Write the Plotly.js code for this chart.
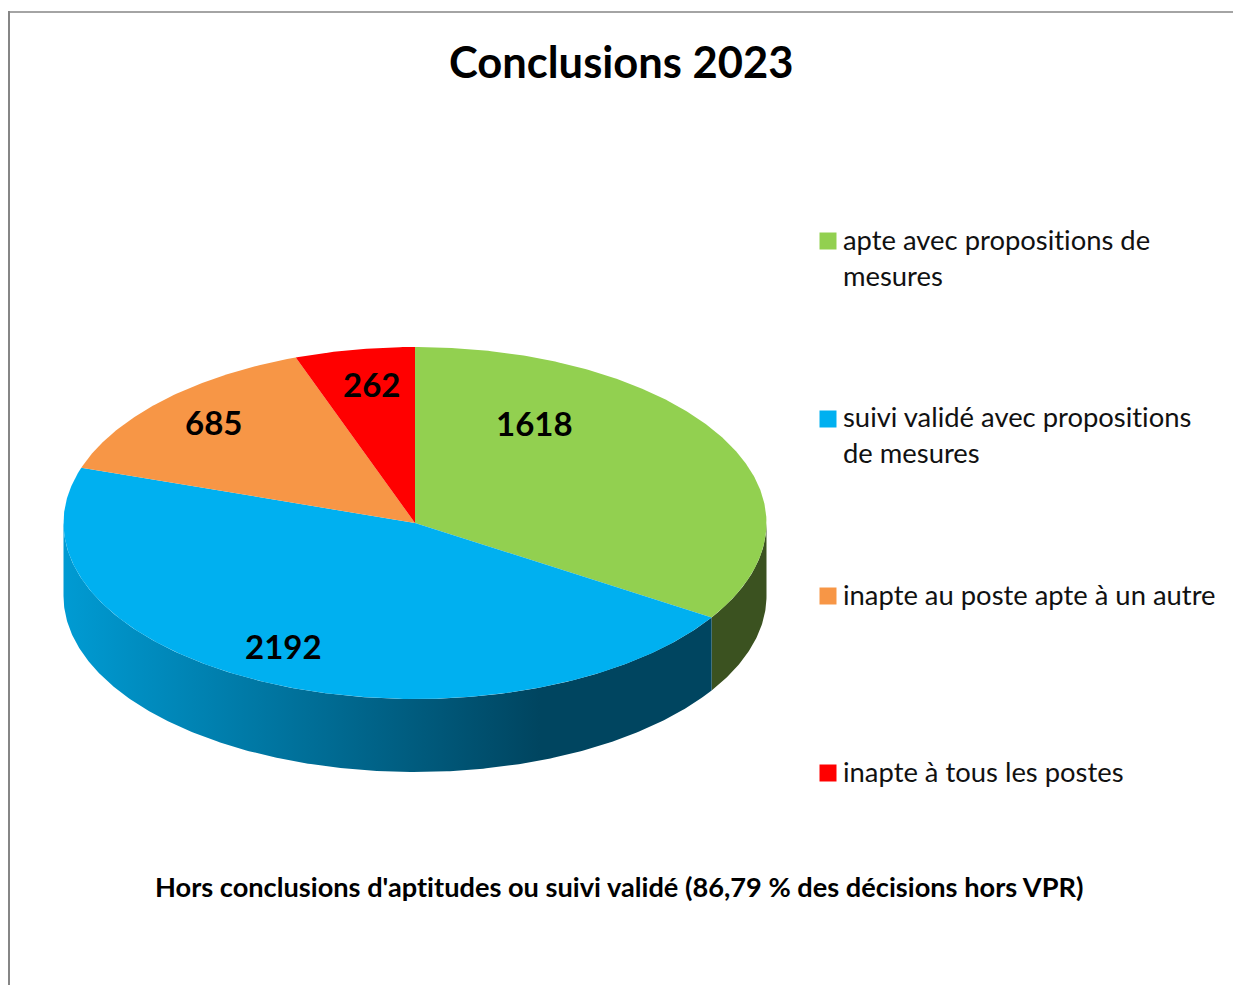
<!DOCTYPE html>
<html>
<head>
<meta charset="utf-8">
<script src="https://cdn.plot.ly/plotly-3.0.1.min.js"></script>
<style>html,body{margin:0;padding:0;background:#fff;overflow:hidden}#chart{width:1233px;height:985px}
svg text{font-variant-ligatures:none !important;font-feature-settings:"liga" 0,"clig" 0,"dlig" 0 !important}</style>
</head>
<body>
<div id="chart"></div>
<script>
const categories = ["apte avec propositions de<br>mesures", "suivi validé avec propositions<br>de mesures", "inapte au poste apte à un autre", "inapte à tous les postes"];
const values = [1618, 2192, 685, 262];
const colors = ["#92D050", "#00B0F0", "#F79646", "#FF0000"];
const wallGreen = "#3B5220";
const wallBlueScale = [[0, "#009BD3"], [1, "#004560"]];
const titleText = "Conclusions 2023";
const noteText = "Hors conclusions d'aptitudes ou suivi validé (86,79 % des décisions hors VPR)";

// Layout of the tilted disc, in page pixels
const cx = 415, cy = 523, rx = 351.5, ry = 176, depth = 73;
const labelX = [534, 283, 213, 371], labelY = [423, 646, 422, 384];
const legendX = 828, legendTextX = 841, legendY = [241, 419, 596, 773];
const legendTextY = [257, 434, 594, 771];

const total = values.reduce((a, b) => a + b, 0);
const px = t => cx + rx * Math.sin(t);
const py = (t, d) => cy - ry * Math.cos(t) + (d || 0);
const rad = d => d * Math.PI / 180;

let edges = [0];
values.forEach(v => edges.push(edges[edges.length - 1] + v / total * 2 * Math.PI));

function arc(t0, t1, d) {
  const n = Math.max(2, Math.ceil(Math.abs(t1 - t0) / rad(0.5)));
  const xs = [], ys = [];
  for (let i = 0; i <= n; i++) {
    const t = t0 + (t1 - t0) * i / n;
    xs.push(px(t)); ys.push(py(t, d));
  }
  return [xs, ys];
}

function wall(t0, t1) {
  const top = arc(t0, t1, 0), bot = arc(t1, t0, depth);
  return { x: top[0].concat(bot[0]), y: top[1].concat(bot[1]) };
}

const traces = [];
// side walls
const w1 = wall(rad(90), edges[1]);
traces.push({ type: "scatter", mode: "lines", x: w1.x, y: w1.y, fill: "toself", fillcolor: wallGreen, line: { width: 0 }, hoverinfo: "skip", showlegend: false });
const w2 = wall(edges[1], rad(270));
traces.push({ type: "scatter", mode: "lines", x: w2.x, y: w2.y, fill: "toself", line: { width: 0 }, hoverinfo: "skip", showlegend: false,
  fillgradient: { type: "horizontal", colorscale: wallBlueScale, start: 63, stop: 540 } });
// top slices
values.forEach((v, i) => {
  const a = arc(edges[i], edges[i + 1], 0);
  traces.push({ type: "scatter", mode: "lines", x: [cx].concat(a[0], [cx]), y: [cy].concat(a[1], [cy]), fill: "toself", fillcolor: colors[i], line: { width: 0 },
    name: categories[i], text: String(v), hoverinfo: "text", showlegend: false });
});
// legend swatches
traces.push({ type: "scatter", mode: "markers", x: legendY.map(() => legendX), y: legendY,
  marker: { symbol: "square", size: 17, color: colors, line: { width: 0 } }, hoverinfo: "skip", showlegend: false });

const annotations = [];
values.forEach((v, i) => {
  annotations.push({ x: labelX[i], y: labelY[i], xref: "x", yref: "y", text: "<b>" + v + "</b>", showarrow: false, xanchor: "center", yanchor: "middle",
    font: { family: "Lato, Carlito, sans-serif", size: 33, color: "#000" } });
  annotations.push({ x: legendTextX, y: legendTextY[i], xref: "x", yref: "y", text: categories[i], showarrow: false, xanchor: "left", yanchor: "middle", align: "left",
    font: { family: "Lato, Carlito, sans-serif", size: 27.4, color: "#111" } });
});
annotations.push({ x: 619, y: 886, xref: "x", yref: "y", text: "<b>" + noteText + "</b>", showarrow: false, xanchor: "center", yanchor: "middle",
  font: { family: "Lato, Carlito, sans-serif", size: 27.2, color: "#000" } });
annotations.push({ x: 621, y: 61, xref: "x", yref: "y", text: "<b>" + titleText + "</b>", showarrow: false, xanchor: "center", yanchor: "middle",
  font: { family: "Lato, Carlito, sans-serif", size: 43.5, color: "#000" } });

const layout = {
  width: 1233, height: 985,
  margin: { l: 0, r: 0, t: 0, b: 0 },
  paper_bgcolor: "#fff", plot_bgcolor: "#fff",
  showlegend: false,
  xaxis: { range: [0, 1233], visible: false, fixedrange: true },
  yaxis: { range: [985, 0], visible: false, fixedrange: true },
  annotations,
  shapes: [
    { type: "line", xref: "x", yref: "y", x0: 9, x1: 9, y0: 11, y1: 985, line: { color: "#868686", width: 2 } },
    { type: "line", xref: "x", yref: "y", x0: 8, x1: 1233, y0: 12, y1: 12, line: { color: "#868686", width: 1.5 } }
  ]
};
Plotly.newPlot("chart", traces, layout, { displayModeBar: false, staticPlot: true });
</script>
</body>
</html>
